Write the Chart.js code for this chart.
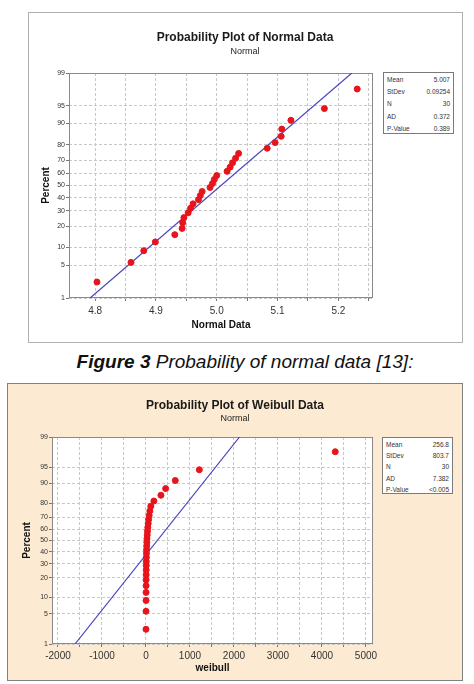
<!DOCTYPE html>
<html><head><meta charset="utf-8">
<script src="https://cdn.jsdelivr.net/npm/chart.js@4"></script>
<style>
body{margin:0;background:#fff;width:474px;height:684px;position:relative;overflow:hidden;font-family:"Liberation Sans",Arial,sans-serif;color:#111}
.abs{position:absolute}
#box1{left:28px;top:12px;width:435px;height:331px;border:1px solid #b0b0b0;box-sizing:border-box;background:#fff}
#box2{left:7px;top:383px;width:456px;height:298px;border:1px solid #808080;box-sizing:border-box;background:#fcebd2}
.title{font-weight:bold;font-size:12px;text-align:center;width:300px;line-height:14px;color:#1a1a1a}
.sub{font-size:9px;text-align:center;width:200px;line-height:11px;color:#222}
.stats{border:1px solid #7a7a7a;background:#fff;font-size:6.5px;color:#333;box-sizing:border-box;padding:1px 3px 0 3px}
.stats div{display:flex;justify-content:space-between}
#caption{left:0;width:490px;top:351px;text-align:center;font-size:19px;font-style:italic;line-height:21px;color:#111}
</style></head>
<body>
<div id="box1" class="abs"></div>
<div id="box2" class="abs"></div>
<canvas id="c1" class="abs" width="435" height="331" style="left:28px;top:12px"></canvas>
<canvas id="c2" class="abs" width="456" height="298" style="left:7px;top:383px"></canvas>
<div class="abs title" style="left:95px;top:30px">Probability Plot of Normal Data</div>
<div class="abs sub" style="left:145px;top:46px">Normal</div>
<div class="abs title" style="left:85px;top:398px">Probability Plot of Weibull Data</div>
<div class="abs sub" style="left:135px;top:413px">Normal</div>
<div id="stats1" class="abs stats" style="left:383px;top:72px;width:71px;height:62px;line-height:12.2px"></div>
<div id="stats2" class="abs stats" style="left:382px;top:437px;width:71px;height:57px;line-height:11.2px"></div>
<div id="caption" class="abs"><b>Figure 3</b> Probability of normal data [13]:</div>
<script>
// ---- data ----
const percentTicks = [1, 5, 10, 20, 30, 40, 50, 60, 70, 80, 90, 95, 99];
// plotting positions (percent) of the 30 ordered observations
const plotPercents = [2.30, 5.59, 8.88, 12.17, 15.46, 18.75, 22.04, 25.33, 28.62, 31.91,
  35.20, 38.49, 41.78, 45.07, 48.36, 51.64, 54.93, 58.22, 61.51, 64.80,
  68.09, 71.38, 74.67, 77.96, 81.25, 84.54, 87.83, 91.12, 94.41, 97.70];
const normalData = [4.803, 4.859, 4.880, 4.899, 4.931, 4.943, 4.944, 4.946, 4.953, 4.957,
  4.961, 4.970, 4.973, 4.976, 4.989, 4.993, 4.996, 5.000, 5.017, 5.022,
  5.026, 5.031, 5.036, 5.083, 5.096, 5.106, 5.107, 5.122, 5.177, 5.231];
const weibullData = [0.5, 1, 1.5, 2, 2.5, 3, 4, 5, 6, 7,
  9, 11, 13, 16, 19, 23, 28, 34, 41, 50,
  60, 72, 88, 110, 180, 340, 447, 666, 1212, 4302];
const normalXTicks = [4.8, 4.9, 5.0, 5.1, 5.2];
const weibullXTicks = [-2000, -1000, 0, 1000, 2000, 3000, 4000, 5000];
const statLabels = ['Mean', 'StDev', 'N', 'AD', 'P-Value'];
const normalStats = ['5.007', '0.09254', '30', '0.372', '0.389'];
const weibullStats = ['256.8', '803.7', '30', '7.382', '<0.005'];

// inverse standard normal CDF (Acklam)
function probit(p){
  const a=[-3.969683028665376e+01,2.209460984245205e+02,-2.759285104469687e+02,1.383577518672690e+02,-3.066479806614716e+01,2.506628277459239e+00];
  const b=[-5.447609879822406e+01,1.615858368580409e+02,-1.556989798598866e+02,6.680131188771972e+01,-1.328068155288572e+01];
  const c=[-7.784894002430293e-03,-3.223964580411365e-01,-2.400758277161838e+00,-2.549671348201341e+00,4.374664141464968e+00,2.938163982698783e+00];
  const d=[7.784695709041462e-03,3.224671290700398e-01,2.445134137142996e+00,3.754408661907416e+00];
  const pl=0.02425, ph=1-pl;
  if(p<pl){const q=Math.sqrt(-2*Math.log(p));return (((((c[0]*q+c[1])*q+c[2])*q+c[3])*q+c[4])*q+c[5])/((((d[0]*q+d[1])*q+d[2])*q+d[3])*q+1);}
  if(p<=ph){const q=p-0.5,r=q*q;return (((((a[0]*r+a[1])*r+a[2])*r+a[3])*r+a[4])*r+a[5])*q/(((((b[0]*r+b[1])*r+b[2])*r+b[3])*r+b[4])*r+1);}
  const q=Math.sqrt(-2*Math.log(1-p));return -(((((c[0]*q+c[1])*q+c[2])*q+c[3])*q+c[4])*q+c[5])/((((d[0]*q+d[1])*q+d[2])*q+d[3])*q+1);
}

function fillStats(id, vals){
  document.getElementById(id).innerHTML = statLabels.map((l,i)=>'<div><span>'+l+'</span><span>'+vals[i]+'</span></div>').join('');
}
fillStats('stats1', normalStats);
fillStats('stats2', weibullStats);

const framePlugin = {
  id: 'frame',
  beforeDraw(chart, args, opts){
    if(!opts.fill) return;
    const {ctx, chartArea:a} = chart;
    ctx.save(); ctx.fillStyle = opts.fill; ctx.fillRect(a.left, a.top, a.width, a.height); ctx.restore();
  },
  beforeDatasetsDraw(chart){
    const {ctx, chartArea:a} = chart;
    ctx.save(); ctx.strokeStyle = '#8a8a8a'; ctx.lineWidth = 1;
    ctx.strokeRect(Math.round(a.left)+0.5, Math.round(a.top)+0.5, Math.round(a.width)-1, Math.round(a.height)-1);
    ctx.restore();
  }
};

function makeChart(id, data, stats, xTicks, cfg){
  const mean = parseFloat(stats[0]), sd = parseFloat(stats[1]);
  const zLo = probit(0.01), zHi = probit(0.99);
  const step = xTicks[1]-xTicks[0];
  const fine = [];
  for(let i=0;i<xTicks.length;i++){
    fine.push(xTicks[i]);
    if(xTicks[i]+step/2 < cfg.xmax) fine.push(xTicks[i]+step/2);
  }
  const tickFont = {family:'"Liberation Sans", Arial, sans-serif'};
  return new Chart(document.getElementById(id), {
    type: 'scatter',
    data: {datasets: [
      {label:'data', data: data.map((x,i)=>({x, y: probit(plotPercents[i]/100)})),
       backgroundColor:'#e8141c', borderColor:'#e8141c', pointRadius:3, pointHoverRadius:3, order:0},
      {label:'fit', data: [{x: mean+zLo*sd, y: zLo}, {x: mean+zHi*sd, y: zHi}],
       showLine:true, pointRadius:0, borderColor:'#4646c0', borderWidth:1.2, order:1}
    ]},
    plugins: [framePlugin],
    options: {
      responsive:false, animation:false, events:[],
      layout:{padding:{top:cfg.top, right:cfg.right, left:0, bottom:0}},
      plugins:{legend:{display:false}, tooltip:{enabled:false}, frame:{fill:cfg.fill}},
      scales:{
        x:{type:'linear', min:cfg.xmin, max:cfg.xmax,
          afterBuildTicks(s){ s.ticks = fine.map(v=>({value:v})); },
          afterFit(s){ s.height = cfg.xh; },
          ticks:{autoSkip:false, maxRotation:0, color:'#333', padding:cfg.xpad,
            font:{...tickFont, size:10},
            callback(v){ const k=(v-xTicks[0])/step; return Math.abs(k-Math.round(k))<1e-6 ? cfg.fmt(v) : ''; }},
          grid:{color:'#c8c8c8', tickColor:'#777', tickLength:3},
          border:{display:false, dash:[3,2]},
          title:{display:true, text:cfg.xtitle, color:'#111', font:{...tickFont, size:10, weight:'bold'}, padding:{top:0,bottom:cfg.xtpad}}
        },
        y:{type:'linear', min:zLo, max:zHi,
          afterBuildTicks(s){ s.ticks = percentTicks.map(p=>({value:probit(p/100)})); },
          afterFit(s){ s.width = cfg.yw; },
          ticks:{autoSkip:false, color:'#333', padding:1, font:{...tickFont, size:7},
            callback(v, i){ return String(percentTicks[i]); }},
          grid:{color:'#c8c8c8', tickColor:'#777', tickLength:3},
          border:{display:false, dash:[3,2]},
          title:{display:true, text:'Percent', color:'#111', font:{...tickFont, size:10, weight:'bold'}, padding:{top:cfg.ytpad,bottom:0}}
        }
      }
    }
  });
}

makeChart('c1', normalData, normalStats, normalXTicks, {
  xmin:4.757, xmax:5.257, top:61, right:90, xh:45, yw:41, xpad:4, xtpad:12, ytpad:12,
  fill:'#fff', xtitle:'Normal Data', fmt:v=>v.toFixed(1)
});
makeChart('c2', weibullData, weibullStats, weibullXTicks, {
  xmin:-2136, xmax:5160, top:54, right:90, xh:37, yw:45, xpad:3, xtpad:7, ytpad:14,
  fill:'#fff', xtitle:'weibull', fmt:v=>String(Math.round(v))
});
</script>
</body></html>
